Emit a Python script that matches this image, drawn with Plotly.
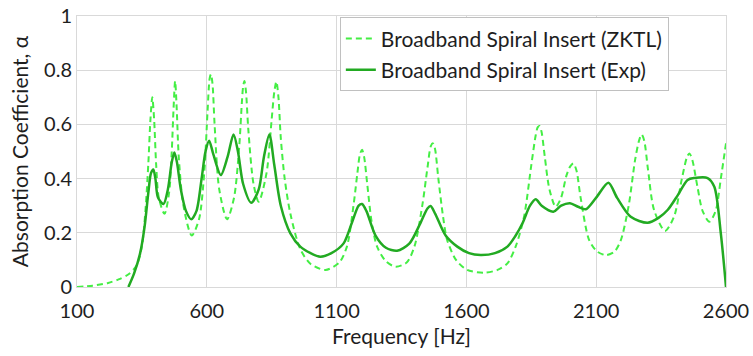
import plotly.graph_objects as go

# ZKTL model prediction
freq_zktl = [100, 160, 220, 260, 300, 330, 350, 365, 375, 383, 390, 397, 405, 415, 437,
             455, 465, 472, 478, 484, 492, 510, 542, 570, 590, 603, 611, 616, 622, 630,
             648, 678, 705, 725, 735, 740, 745, 751, 760, 780, 800, 830, 850, 860, 868,
             876, 885, 900, 922, 960, 1000, 1057, 1110, 1140, 1165, 1180, 1190, 1198, 1206,
             1218, 1235, 1256, 1290, 1327, 1370, 1400, 1430, 1450, 1463, 1471, 1479, 1492,
             1510, 1526, 1560, 1603, 1668, 1720, 1758, 1790, 1822, 1850, 1867, 1875, 1882,
             1890, 1902, 1920, 1944, 1965, 1985, 2000, 2012, 2024, 2040, 2073, 2105, 2137,
             2170, 2195, 2225, 2250, 2265, 2275, 2285, 2300, 2323, 2365, 2400, 2430, 2450,
             2459, 2470, 2490, 2510, 2536, 2560, 2580, 2600]
alpha_zktl = [0.0, 0.005, 0.015, 0.028, 0.048, 0.08, 0.15, 0.3, 0.46, 0.62, 0.70, 0.62, 0.45, 0.33, 0.27,
              0.35, 0.5, 0.66, 0.76, 0.66, 0.48, 0.3, 0.19, 0.25, 0.42, 0.65, 0.77, 0.785, 0.75, 0.6,
              0.36, 0.25, 0.33, 0.52, 0.68, 0.74, 0.76, 0.72, 0.58, 0.38, 0.315, 0.42, 0.62, 0.72, 0.758,
              0.7, 0.55, 0.4, 0.27, 0.14, 0.085, 0.063, 0.09, 0.15, 0.3, 0.42, 0.49, 0.506, 0.48,
              0.38, 0.24, 0.149, 0.095, 0.075, 0.09, 0.15, 0.3, 0.44, 0.52, 0.53, 0.51, 0.4,
              0.26, 0.173, 0.1, 0.063, 0.053, 0.063, 0.087, 0.15, 0.259, 0.45, 0.56, 0.59, 0.594,
              0.57, 0.48, 0.36, 0.296, 0.33, 0.41, 0.445, 0.456, 0.43, 0.33, 0.173, 0.13, 0.118,
              0.13, 0.173, 0.3, 0.47, 0.54, 0.563, 0.54, 0.43, 0.284, 0.207, 0.26, 0.4, 0.48,
              0.493, 0.47, 0.37, 0.28, 0.241, 0.28, 0.4, 0.53]

# Measured absorption
freq_exp = [298, 320, 343, 360, 375, 385, 394, 402, 412, 433, 450, 465, 475, 485, 500,
            520, 540, 560, 580, 595, 609, 625, 654, 680, 703, 720, 740, 771, 800, 820,
            841, 860, 885, 922, 960, 1000, 1037, 1080, 1127, 1160, 1185, 1198, 1215, 1250,
            1290, 1333, 1380, 1420, 1450, 1462, 1480, 1520, 1565, 1610, 1655, 1710, 1758,
            1790, 1816, 1845, 1867, 1890, 1935, 1965, 1999, 2030, 2060, 2100, 2147, 2180,
            2233, 2298, 2340, 2375, 2415, 2452, 2478, 2529, 2555, 2580, 2600]
alpha_exp = [0.0, 0.05, 0.124, 0.22, 0.35, 0.42, 0.434, 0.40, 0.33, 0.306, 0.36, 0.46, 0.496, 0.46, 0.36,
             0.28, 0.25, 0.28, 0.4, 0.5, 0.54, 0.49, 0.413, 0.48, 0.563, 0.5, 0.38, 0.311, 0.36, 0.48,
             0.563, 0.45, 0.3, 0.198, 0.149, 0.125, 0.112, 0.125, 0.161, 0.24, 0.3, 0.306, 0.28, 0.19,
             0.145, 0.134, 0.16, 0.23, 0.29, 0.299, 0.27, 0.19, 0.149, 0.125, 0.118, 0.125, 0.149,
             0.19, 0.235, 0.3, 0.324, 0.3, 0.278, 0.3, 0.309, 0.296, 0.287, 0.33, 0.385, 0.33,
             0.259, 0.237, 0.255, 0.284, 0.34, 0.395, 0.402, 0.402, 0.37, 0.198, 0.0]

x_ticks = [100, 600, 1100, 1600, 2100, 2600]
y_ticks = [0, 0.2, 0.4, 0.6, 0.8, 1]
y_tick_text = ["0", "0.2", "0.4", "0.6", "0.8", "1"]

FONT = "Lato, 'Open Sans', sans-serif"
GRID = "#d9d9d9"
TEXT = "#1e1e1e"

fig = go.Figure()
fig.add_trace(go.Scatter(
    x=freq_zktl, y=alpha_zktl, mode="lines",
    name="Broadband Spiral Insert (ZKTL)", legendgroup="zktl",
    line=dict(color="#44ee44", width=2, dash="6px,4px", shape="spline", smoothing=0.8),
))
fig.add_trace(go.Scatter(
    x=freq_exp, y=alpha_exp, mode="lines",
    name="Broadband Spiral Insert (Exp)", legendgroup="exp",
    line=dict(color="#22aa22", width=2.5, shape="spline", smoothing=0.8),
))

fig.update_layout(
    width=753, height=356,
    margin=dict(l=77, r=27, t=16, b=69),
    paper_bgcolor="white", plot_bgcolor="white",
    font=dict(family=FONT, color=TEXT, size=20),
    showlegend=True,
    legend=dict(
        x=0.405, y=0.995, xanchor="left", yanchor="top",
        bgcolor="white", bordercolor="#c0c0c0", borderwidth=1,
        font=dict(family=FONT, size=21, color=TEXT),
        itemwidth=30, tracegroupgap=1,
    ),
)
fig.update_xaxes(
    range=[100, 2600], tickvals=x_ticks, ticktext=[str(v) for v in x_ticks],
    showgrid=True, gridcolor=GRID, gridwidth=1,
    showline=True, linecolor=GRID, mirror=True, zeroline=False,
    ticks="", tickfont=dict(size=20), automargin=False, ticklabelstandoff=6,
    title=dict(text="Frequency [Hz]", font=dict(size=21), standoff=8),
)
fig.update_yaxes(
    range=[0, 1], tickvals=y_ticks, ticktext=y_tick_text,
    showgrid=True, gridcolor=GRID, gridwidth=1,
    showline=True, linecolor=GRID, mirror=True, zeroline=False,
    ticks="", tickfont=dict(size=20), automargin=False,
    title=dict(text="Absorption Coefficient, α", font=dict(size=21), standoff=9),
)

fig.write_html("out.html")
